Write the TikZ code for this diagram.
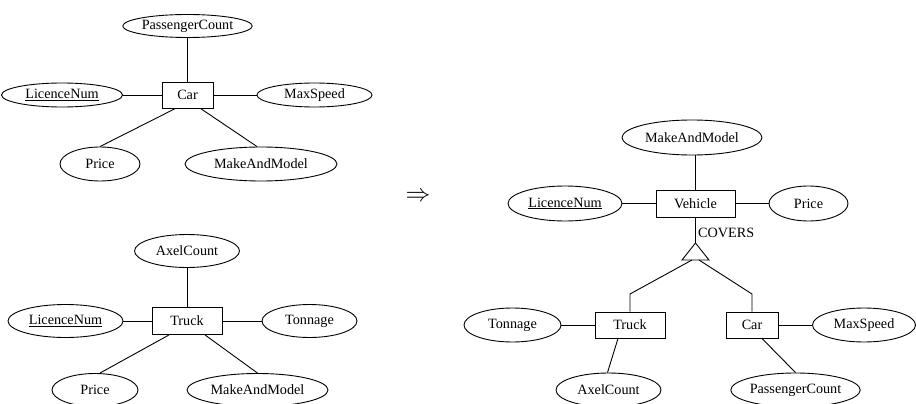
\documentclass[tikz,border=0pt]{standalone}
\usepackage{fontspec}
\setmainfont{Liberation Serif}
\usetikzlibrary{shapes.geometric}
\begin{document}
\begin{tikzpicture}[x=1pt,y=-1pt,
  every node/.style={font=\fontsize{14.2}{16}\selectfont, inner sep=0pt},
  attr/.style={draw, ellipse, line width=0.9pt},
  ent/.style={draw, rectangle, line width=0.9pt},
  conn/.style={line width=0.9pt}]
\clip (0,0) rectangle (916,404);
% ---- top left: Car
\node[ent, minimum width=51pt, minimum height=26pt] (car1) at (187.5,95) {Car};
\node[attr, minimum width=123pt, minimum height=23pt] (pc1) at (187.5,26) {PassengerCount};
\node[attr, minimum width=121pt, minimum height=24pt] (ln1) at (62,95) {\underline{LicenceNum}};
\node[attr, minimum width=115pt, minimum height=24pt] (ms1) at (314.5,95) {MaxSpeed};
\node[attr, minimum width=80pt, minimum height=34pt] (pr1) at (100,164) {Price};
\node[attr, minimum width=152pt, minimum height=34pt] (mm1) at (261,164) {MakeAndModel};
\draw[conn] (car1.north) -- (pc1.south);
\draw[conn] (car1.west) -- (ln1.east);
\draw[conn] (car1.east) -- (ms1.west);
\draw[conn] ([xshift=-12pt]car1.south) -- (pr1.north);
\draw[conn] ([xshift=13pt]car1.south) -- ([xshift=-4pt]mm1.north);
% ---- bottom left: Truck
\node[ent, minimum width=70pt, minimum height=27pt] (tr2) at (187,321) {Truck};
\node[attr, minimum width=105pt, minimum height=33pt] (ac2) at (187,251) {AxelCount};
\node[attr, minimum width=115pt, minimum height=33pt] (ln2) at (65.5,321) {\underline{LicenceNum}};
\node[attr, minimum width=95pt, minimum height=33pt] (tn2) at (309.5,321) {Tonnage};
\node[attr, minimum width=86pt, minimum height=33pt] (pr2) at (95,390) {Price};
\node[attr, minimum width=141pt, minimum height=33pt] (mm2) at (257.5,390) {MakeAndModel};
\draw[conn] (tr2.north) -- (ac2.south);
\draw[conn] (tr2.west) -- (ln2.east);
\draw[conn] (tr2.east) -- (tn2.west);
\draw[conn] ([xshift=-18pt]tr2.south) -- ([xshift=5pt]pr2.north);
\draw[conn] ([xshift=18pt]tr2.south) -- (mm2.north);
% ---- implication arrow
\node[font=\fontsize{24}{26}\selectfont] (impl) at (418,197) {$\Rightarrow$};
% ---- right: Vehicle hierarchy
\node[ent, minimum width=79pt, minimum height=27pt] (veh) at (695.5,203.5) {Vehicle};
\node[attr, minimum width=140pt, minimum height=35pt] (mm3) at (692,137.5) {MakeAndModel};
\node[attr, minimum width=114pt, minimum height=35pt] (ln3) at (565,203.5) {\underline{LicenceNum}};
\node[attr, minimum width=79pt, minimum height=35pt] (pr3) at (808.5,203.5) {Price};
\draw[conn] (veh.north) -- (veh.north |- mm3.south);
\draw[conn] (veh.west) -- (ln3.east);
\draw[conn] (veh.east) -- (pr3.west);
\coordinate (apex) at (695.5,243);
\coordinate (bl) at (682,260);
\coordinate (br) at (709,260);
\draw[conn, line join=miter] (apex) -- (bl) -- (br) -- cycle;
\draw[conn] (veh.south) -- (apex);
\node[anchor=west] (covers) at (698,233) {COVERS};
\node[ent, minimum width=70pt, minimum height=26pt] (tr3) at (630,325) {Truck};
\node[ent, minimum width=52pt, minimum height=26pt] (car3) at (752,325) {Car};
\node[attr, minimum width=97pt, minimum height=34pt] (tn3) at (512.5,325) {Tonnage};
\node[attr, minimum width=103pt, minimum height=34pt] (ms3) at (864,325) {MaxSpeed};
\node[attr, minimum width=105pt, minimum height=34pt] (ac3) at (608.5,390) {AxelCount};
\node[attr, minimum width=123pt, minimum height=34pt] (pc3) at (795.5,390) {PassengerCount};
\coordinate (tl) at (692,260);
\coordinate (tr) at (699,260);
\draw[conn] (tl) -- (tr3.north |- 0,294) -- (tr3.north);
\draw[conn] (tr) -- (car3.north |- 0,294) -- (car3.north);
\draw[conn] (tr3.west) -- (tn3.east);
\draw[conn] (car3.east) -- (ms3.west);
\draw[conn] ([xshift=-12pt]tr3.south) -- ([xshift=-1pt]ac3.north);
\draw[conn] ([xshift=10pt]car3.south) -- (pc3.north);
\end{tikzpicture}
\end{document}
